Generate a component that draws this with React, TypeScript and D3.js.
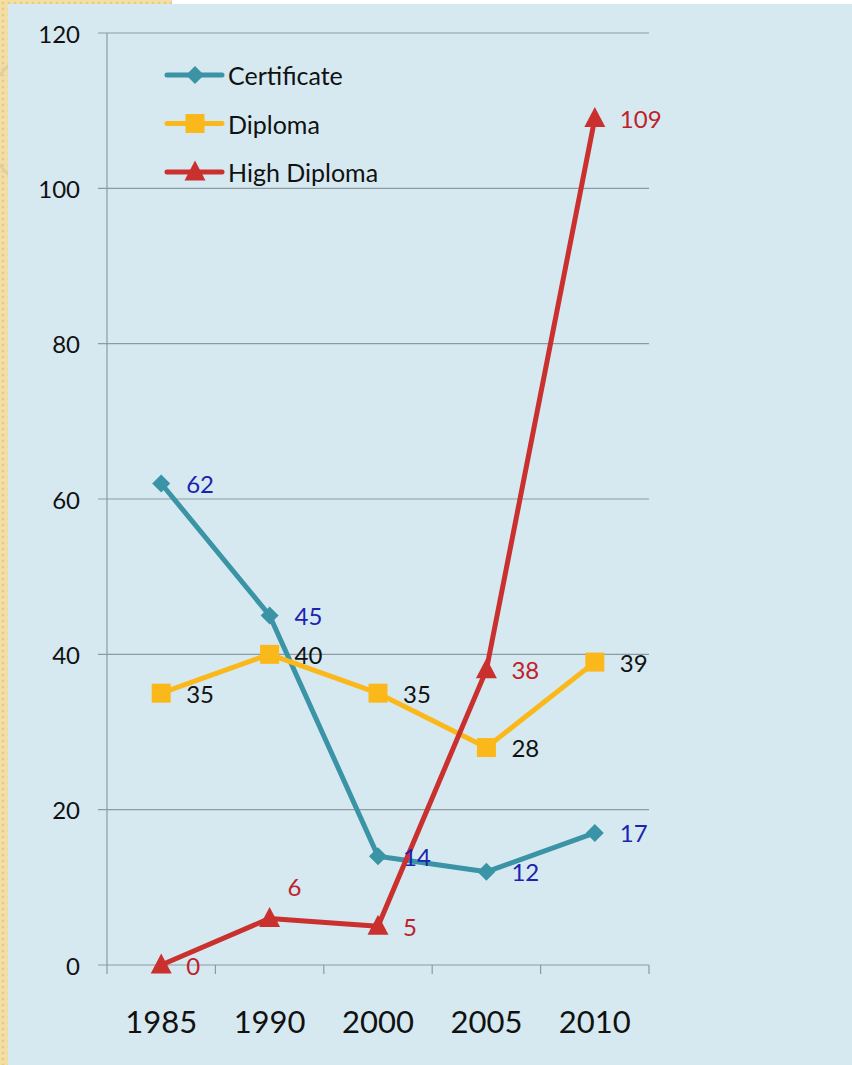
import React from "react";
import * as d3 from "d3";

const years = ["1985", "1990", "2000", "2005", "2010"];
const certificate = [62, 45, 14, 12, 17];
const diploma = [35, 40, 35, 28, 39];
const highDiploma = [0, 6, 5, 38, 109];
const yTicks = [0, 20, 40, 60, 80, 100, 120];

const seriesDefs = [
  { name: "Certificate", values: certificate, color: "#3b93a6", labelColor: "#1c23b0", marker: "diamond" },
  { name: "Diploma", values: diploma, color: "#fbb81a", labelColor: "#111111", marker: "square" },
  { name: "High Diploma", values: highDiploma, color: "#c9302e", labelColor: "#c0202a", marker: "triangle" },
];

const W = 852, H = 1065;
const left = 107, right = 649, top = 33, bottom = 965;
const FONT = "Lato, 'Open Sans', sans-serif";

function Marker({ type, x, y, color }: { type: string; x: number; y: number; color: string }) {
  if (type === "diamond") {
    const s = 9;
    return <path d={`M${x},${y - s}L${x + s},${y}L${x},${y + s}L${x - s},${y}Z`} fill={color} />;
  }
  if (type === "square") {
    const s = 9.5;
    return <rect x={x - s} y={y - s} width={2 * s} height={2 * s} fill={color} />;
  }
  const s = 10.5;
  return <path d={`M${x},${y - s - 1}L${x + s},${y + s - 2}L${x - s},${y + s - 2}Z`} fill={color} />;
}

export default function App() {
  const x = d3.scaleBand().domain(years).range([left, right]).paddingInner(0).paddingOuter(0);
  const y = d3.scaleLinear().domain([0, 120]).range([bottom, top]);
  const cx = (yr: string) => (x(yr) as number) + x.bandwidth() / 2;
  const line = d3.line<number>().x((_, i) => cx(years[i])).y((v) => y(v));
  const bounds = x.domain().map((d) => x(d) as number).concat([right]);

  return (
    <svg width={W} height={H} style={{ position: "absolute", left: 0, top: 0, display: "block" }}>
      <defs>
        <pattern id="dots" width="6" height="6" patternUnits="userSpaceOnUse">
          <rect width="6" height="6" fill="#f3dfa6" />
          <circle cx="3" cy="3" r="1.6" fill="#e8cd86" />
        </pattern>
      </defs>
      <rect width={W} height={H} fill="#ffffff" />
      <rect x={0} y={0} width={172} height={H} fill="url(#dots)" />
      <circle cx={60} cy={120} r={75} fill="none" stroke="#e0cfa0" strokeWidth={3} />
      <rect x={8} y={4} width={W - 8} height={H - 4} fill="#d6e9f0" />

      {yTicks.map((t) => (
        <line key={t} x1={98} x2={right} y1={y(t)} y2={y(t)} stroke="#8c9ba2" strokeWidth={1.2} />
      ))}
      <line x1={left} x2={left} y1={top} y2={bottom} stroke="#8c9ba2" strokeWidth={1.2} />
      {bounds.map((b, i) => (
        <line key={i} x1={b} x2={b} y1={bottom} y2={bottom + 9} stroke="#8c9ba2" strokeWidth={1.2} />
      ))}
      {yTicks.map((t) => (
        <text key={t} x={80} y={y(t)} textAnchor="end" dominantBaseline="central" fontFamily={FONT} fontSize={24} fill="#111">
          {t}
        </text>
      ))}
      {years.map((yr) => (
        <text key={yr} x={cx(yr)} y={1021} textAnchor="middle" dominantBaseline="central" fontFamily={FONT} fontSize={31} fill="#111">
          {yr}
        </text>
      ))}

      {seriesDefs.map((s) => (
        <path key={s.name} d={line(s.values) as string} fill="none" stroke={s.color} strokeWidth={5} strokeLinejoin="round" />
      ))}
      {seriesDefs.map((s) =>
        s.values.map((v, i) => <Marker key={s.name + i} type={s.marker} x={cx(years[i])} y={y(v)} color={s.color} />)
      )}
      {seriesDefs.map((s) =>
        s.values.map((v, i) => {
          const above = s.name === "High Diploma" && i === 1;
          return (
            <text
              key={s.name + "l" + i}
              x={cx(years[i]) + (above ? 18 : 25)}
              y={y(v) + (above ? -32 : 0)}
              dominantBaseline="central"
              fontFamily={FONT}
              fontSize={24}
              fill={s.labelColor}
            >
              {v}
            </text>
          );
        })
      )}

      {seriesDefs.map((s, i) => {
        const ly = 75 + i * 48.5;
        return (
          <g key={s.name}>
            <line x1={167} x2={222} y1={ly} y2={ly} stroke={s.color} strokeWidth={5} strokeLinecap="round" />
            <Marker type={s.marker} x={195} y={ly} color={s.color} />
            <text x={228} y={ly} dominantBaseline="central" fontFamily={FONT} fontSize={25} fill="#111">
              {s.name}
            </text>
          </g>
        );
      })}
    </svg>
  );
}
